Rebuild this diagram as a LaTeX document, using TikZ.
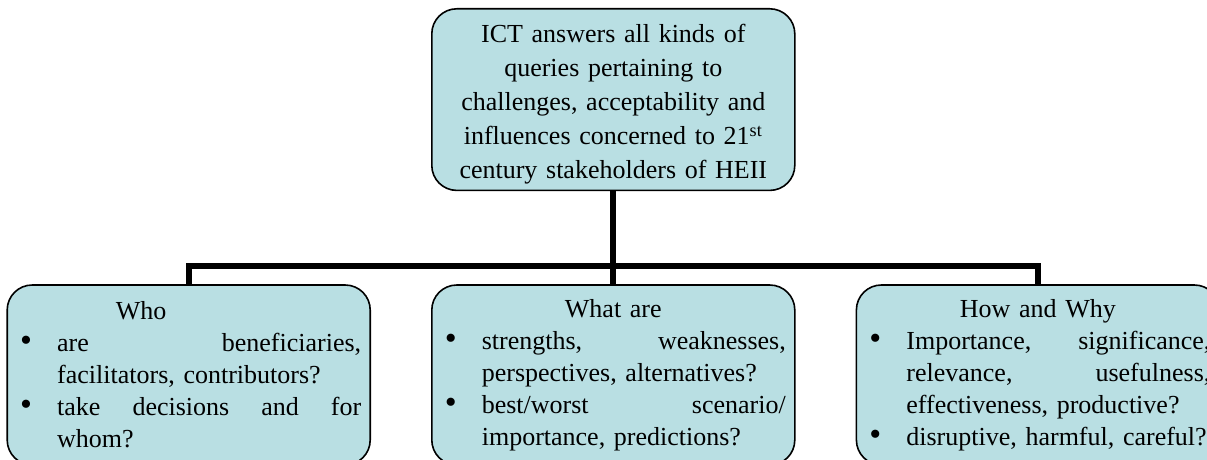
\documentclass[tikz,border=0pt]{standalone}
\usepackage{fontspec}
\setmainfont{Liberation Serif}
\usepackage{xcolor}
\definecolor{paleAqua}{HTML}{B9DFE3}
\definecolor{darkText}{HTML}{000000}
\usepackage{tikz}
\usetikzlibrary{
    positioning
}
% heading line, item line and continuation line of a question box
\newcommand{\qhead}[2][0pt]{\makebox[172.5pt]{#2\hspace{#1}}}
\newcommand{\qdot}{{\fontsize{17pt}{17pt}\selectfont\textbullet}}
\newcommand{\qitem}[1]{\makebox[20.5pt][l]{\hspace{2pt}\qdot}\makebox[152pt][l]{#1}}
\newcommand{\qcont}[1]{\hspace*{20.5pt}\makebox[152pt][l]{#1}}
\tikzset{
    % Base style for all boxes
    box base/.style={
        rectangle,
        rounded corners=12.5pt,
        draw=black,
        line width=0.8pt,
        fill=paleAqua,
        text=darkText,
        text width=172.5pt,
        inner xsep=4.5pt,
        inner ysep=3pt,
        minimum height=90pt,
    },
    % Top box - the main statement
    mainbox/.style={
        box base,
        align=center,
        font=\fontsize{13pt}{17pt}\selectfont,
    },
    % Bottom boxes - the questions
    leaf/.style={
        box base,
        align=left,
        font=\fontsize{13pt}{16pt}\selectfont,
    },
    % Thick tree connector
    link/.style={
        line width=3pt,
        draw=black,
        line join=miter,
    },
}
\begin{document}
\begin{tikzpicture}[x=1pt, y=1pt]
    \path [use as bounding box, clip] (0,0) rectangle (603.5,-230);

    \node (ict) [mainbox, anchor=north west] at (215.5,-4)
        {\rule{0pt}{14pt}ICT answers all kinds of\\ queries pertaining to\\
         challenges, acceptability and\\ influences concerned to 21\textsuperscript{st}\\
         century stakeholders of HEII};
    \node (what) [leaf, below=46.5pt of ict]
        {\qhead{What are}\\
         \qitem{strengths,\hfill weaknesses,}\\
         \qcont{perspectives, alternatives?}\\
         \qitem{best/worst\hfill scenario/}\\
         \qcont{importance, predictions?}};
    \node (who) [leaf, left=30pt of what]
        {\qhead[47.5pt]{Who}\\
         \qitem{are\hfill beneficiaries,}\\
         \qcont{facilitators, contributors?}\\
         \qitem{take\hfill decisions\hfill and\hfill for}\\
         \qcont{whom?}};
    \node (howwhy) [leaf, right=30pt of what]
        {\qhead{How and Why}\\
         \qitem{Importance,\hfill significance,}\\
         \qcont{relevance,\hfill usefulness,}\\
         \qcont{effectiveness, productive?}\\
         \qitem{disruptive, harmful, careful?}};
    \coordinate [below=37.5pt of ict] (hub);

    \draw [link] (who) |- (hub) -| (howwhy);
    \draw [link] (ict) -- (what);
\end{tikzpicture}
\end{document}
